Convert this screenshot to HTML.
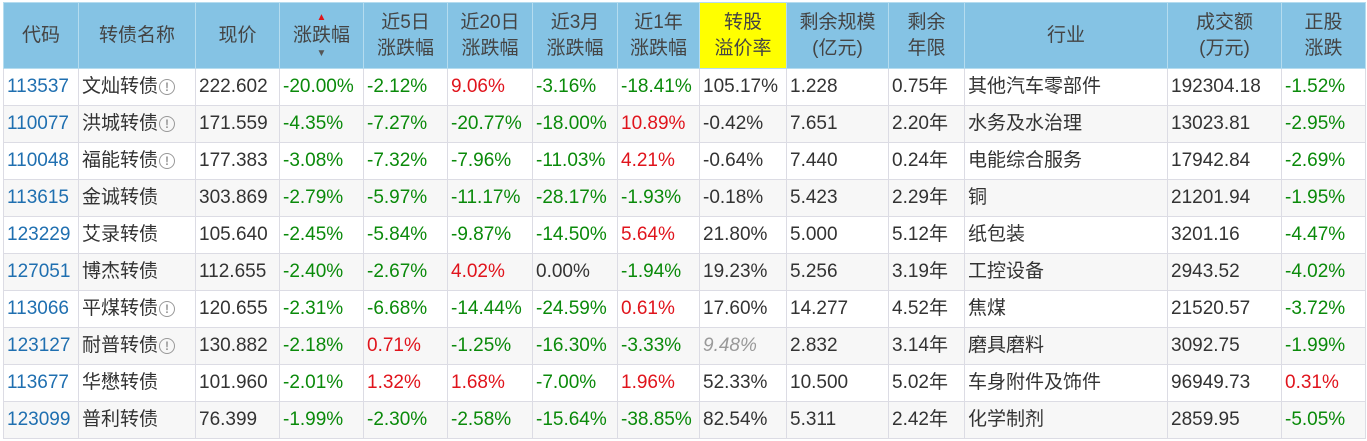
<!DOCTYPE html>
<html><head><meta charset="utf-8"><style>
body{margin:0;width:1367px;height:441px;overflow:hidden;background:#fff;font-family:"Liberation Sans","Noto Sans CJK SC",sans-serif;}
table{position:absolute;left:3px;top:2px;border-collapse:collapse;table-layout:fixed;}
td,th{border:1px solid #dcdce4;padding:0 0 0 3px;font-size:19px;white-space:nowrap;overflow:hidden;}
th{background:#85c3e4;color:#444;font-weight:normal;height:65px;text-align:center;line-height:26px;border-color:#b5dcef;padding:0;}
td{height:36px;line-height:20px;color:#333;vertical-align:middle;}
td span.t{display:inline-block;line-height:20px;vertical-align:middle;}
tr:nth-child(odd) td{background:#f7f7f7;}
.c{color:#1f6fb0}.g{color:#0a8a0a}.r{color:#e0141c}.y{background:#ffff00!important}
.i{display:inline-block;width:16px;height:16px;border:1.5px solid #999;border-radius:50%;font-size:12px;line-height:14px;text-align:center;color:#999;vertical-align:middle;box-sizing:border-box;margin-left:1px;font-weight:bold}
.gr{color:#999;font-style:italic}
</style></head><body>
<table>
<colgroup><col style="width:75px"><col style="width:117px"><col style="width:84px"><col style="width:84px"><col style="width:84px"><col style="width:85px"><col style="width:85px"><col style="width:82px"><col style="width:87px"><col style="width:102px"><col style="width:76px"><col style="width:203px"><col style="width:114px"><col style="width:84px"></colgroup>
<tr><th>代码</th><th>转债名称</th><th>现价</th><th><div style="color:#e0141c;font-size:10px;line-height:10px">▲</div>涨跌幅<div style="color:#555;font-size:10px;line-height:10px">▼</div></th><th>近5日<br>涨跌幅</th><th>近20日<br>涨跌幅</th><th>近3月<br>涨跌幅</th><th>近1年<br>涨跌幅</th><th class="y">转股<br>溢价率</th><th>剩余规模<br>(亿元)</th><th>剩余<br>年限</th><th>行业</th><th>成交额<br>(万元)</th><th>正股<br>涨跌</th></tr>
<tr><td class="c">113537</td><td>文灿转债<span class="i">!</span></td><td>222.602</td><td class="g">-20.00%</td><td class="g">-2.12%</td><td class="r">9.06%</td><td class="g">-3.16%</td><td class="g">-18.41%</td><td>105.17%</td><td>1.228</td><td>0.75年</td><td>其他汽车零部件</td><td>192304.18</td><td class="g">-1.52%</td></tr>
<tr><td class="c">110077</td><td>洪城转债<span class="i">!</span></td><td>171.559</td><td class="g">-4.35%</td><td class="g">-7.27%</td><td class="g">-20.77%</td><td class="g">-18.00%</td><td class="r">10.89%</td><td>-0.42%</td><td>7.651</td><td>2.20年</td><td>水务及水治理</td><td>13023.81</td><td class="g">-2.95%</td></tr>
<tr><td class="c">110048</td><td>福能转债<span class="i">!</span></td><td>177.383</td><td class="g">-3.08%</td><td class="g">-7.32%</td><td class="g">-7.96%</td><td class="g">-11.03%</td><td class="r">4.21%</td><td>-0.64%</td><td>7.440</td><td>0.24年</td><td>电能综合服务</td><td>17942.84</td><td class="g">-2.69%</td></tr>
<tr><td class="c">113615</td><td>金诚转债</td><td>303.869</td><td class="g">-2.79%</td><td class="g">-5.97%</td><td class="g">-11.17%</td><td class="g">-28.17%</td><td class="g">-1.93%</td><td>-0.18%</td><td>5.423</td><td>2.29年</td><td>铜</td><td>21201.94</td><td class="g">-1.95%</td></tr>
<tr><td class="c">123229</td><td>艾录转债</td><td>105.640</td><td class="g">-2.45%</td><td class="g">-5.84%</td><td class="g">-9.87%</td><td class="g">-14.50%</td><td class="r">5.64%</td><td>21.80%</td><td>5.000</td><td>5.12年</td><td>纸包装</td><td>3201.16</td><td class="g">-4.47%</td></tr>
<tr><td class="c">127051</td><td>博杰转债</td><td>112.655</td><td class="g">-2.40%</td><td class="g">-2.67%</td><td class="r">4.02%</td><td>0.00%</td><td class="g">-1.94%</td><td>19.23%</td><td>5.256</td><td>3.19年</td><td>工控设备</td><td>2943.52</td><td class="g">-4.02%</td></tr>
<tr><td class="c">113066</td><td>平煤转债<span class="i">!</span></td><td>120.655</td><td class="g">-2.31%</td><td class="g">-6.68%</td><td class="g">-14.44%</td><td class="g">-24.59%</td><td class="r">0.61%</td><td>17.60%</td><td>14.277</td><td>4.52年</td><td>焦煤</td><td>21520.57</td><td class="g">-3.72%</td></tr>
<tr><td class="c">123127</td><td>耐普转债<span class="i">!</span></td><td>130.882</td><td class="g">-2.18%</td><td class="r">0.71%</td><td class="g">-1.25%</td><td class="g">-16.30%</td><td class="g">-3.33%</td><td class="gr">9.48%</td><td>2.832</td><td>3.14年</td><td>磨具磨料</td><td>3092.75</td><td class="g">-1.99%</td></tr>
<tr><td class="c">113677</td><td>华懋转债</td><td>101.960</td><td class="g">-2.01%</td><td class="r">1.32%</td><td class="r">1.68%</td><td class="g">-7.00%</td><td class="r">1.96%</td><td>52.33%</td><td>10.500</td><td>5.02年</td><td>车身附件及饰件</td><td>96949.73</td><td class="r">0.31%</td></tr>
<tr><td class="c">123099</td><td>普利转债</td><td>76.399</td><td class="g">-1.99%</td><td class="g">-2.30%</td><td class="g">-2.58%</td><td class="g">-15.64%</td><td class="g">-38.85%</td><td>82.54%</td><td>5.311</td><td>2.42年</td><td>化学制剂</td><td>2859.95</td><td class="g">-5.05%</td></tr>
</table>
</body></html>
